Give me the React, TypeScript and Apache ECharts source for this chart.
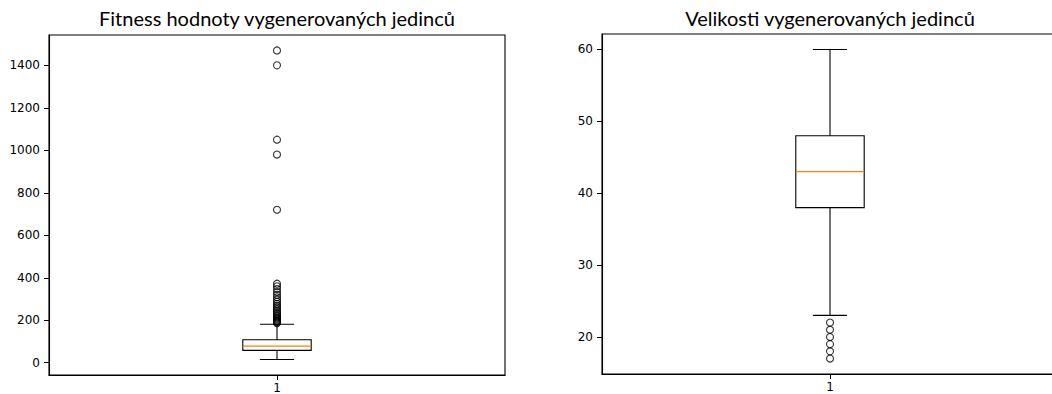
import React, { useEffect, useRef } from "react";
import * as echarts from "echarts";

// Fitness values: five-number summary [whisker low, Q1, median, Q3, whisker high]
const fitnessSummary = [15, 58, 78, 108, 181];
const fitnessOutliers = [
  186, 190, 194, 198, 203, 208, 213, 218, 224, 230, 237, 244, 252, 260, 268,
  277, 287, 297, 308, 320, 333, 347, 360, 372, 720, 980, 1050, 1400, 1470,
];
const fitnessTicks = [0, 200, 400, 600, 800, 1000, 1200, 1400];

// Individual sizes
const sizeSummary = [23, 38, 43, 48, 60];
const sizeOutliers = [22, 21, 20, 19, 18, 17];
const sizeTicks = [20, 30, 40, 50, 60];

const categoryLabels = ["1"];
const titles = ["Fitness hodnoty vygenerovaných jedinců", "Velikosti vygenerovaných jedinců"];

const FONT = "DejaVu Sans";

// Axis extents with a 5% margin around the data, as in the usual boxplot view
function paddedExtent(values: number[]): [number, number] {
  const lo = Math.min(...values);
  const hi = Math.max(...values);
  const pad = (hi - lo) * 0.05;
  return [lo - pad, hi + pad];
}

const BOX_HALF = 0.075; // half box width in x-axis units
const CAP_HALF = 0.0375; // half whisker-cap width

function renderBox(_params: any, api: any) {
  const x = api.value(0);
  const lo = api.value(1);
  const q1 = api.value(2);
  const med = api.value(3);
  const q3 = api.value(4);
  const hi = api.value(5);
  const c = (xx: number, yy: number) => api.coord([xx, yy]);
  const pLo = c(x, lo);
  const pHi = c(x, hi);
  const pQ1L = c(x - BOX_HALF, q1);
  const pQ3R = c(x + BOX_HALF, q3);
  const pQ1 = c(x, q1);
  const pQ3 = c(x, q3);
  const capLoL = c(x - CAP_HALF, lo);
  const capLoR = c(x + CAP_HALF, lo);
  const capHiL = c(x - CAP_HALF, hi);
  const capHiR = c(x + CAP_HALF, hi);
  const medL = c(x - BOX_HALF, med);
  const medR = c(x + BOX_HALF, med);
  const stroke = { stroke: "#000", lineWidth: 1.1, fill: "none" };
  return {
    type: "group",
    children: [
      { type: "line", shape: { x1: pLo[0], y1: pLo[1], x2: pQ1[0], y2: pQ1[1] }, style: stroke },
      { type: "line", shape: { x1: pQ3[0], y1: pQ3[1], x2: pHi[0], y2: pHi[1] }, style: stroke },
      { type: "line", shape: { x1: capLoL[0], y1: capLoL[1], x2: capLoR[0], y2: capLoR[1] }, style: stroke },
      { type: "line", shape: { x1: capHiL[0], y1: capHiL[1], x2: capHiR[0], y2: capHiR[1] }, style: stroke },
      {
        type: "rect",
        shape: {
          x: pQ1L[0],
          y: pQ3R[1],
          width: pQ3R[0] - pQ1L[0],
          height: pQ1L[1] - pQ3R[1],
        },
        style: stroke,
      },
      {
        type: "line",
        shape: { x1: medL[0], y1: medL[1], x2: medR[0], y2: medR[1] },
        style: { stroke: "#ff7f0e", lineWidth: 1.1 },
      },
    ],
  };
}

// The canvas is a bit wider than the visible frame, so the second panel
// runs past the right edge and is cut off there.
const CANVAS_W = 1070;
const VIEW_W = 1052;
const VIEW_H = 394;

export default function App() {
  const ref = useRef<HTMLDivElement>(null);

  useEffect(() => {
    if (!ref.current) return;
    const chart = echarts.init(ref.current, null, { renderer: "svg" });

    const [fMin, fMax] = paddedExtent([...fitnessSummary, ...fitnessOutliers]);
    const [sMin, sMax] = paddedExtent([...sizeSummary, ...sizeOutliers]);

    const grids = [
      { left: 49, top: 35, width: 456, height: 341 },
      { left: 602, top: 34, width: 456, height: 340 },
    ];

    const xAxisFor = (gridIndex: number) => ({
      type: "value",
      gridIndex,
      min: 0.5,
      max: 1.5,
      splitLine: { show: false },
      axisLine: { show: true, onZero: false, lineStyle: { color: "#000", width: 1.1 } },
      axisTick: { show: true, length: 5, customValues: [1], lineStyle: { color: "#000", width: 1 } },
      axisLabel: {
        show: true,
        customValues: [1],
        formatter: () => categoryLabels[0],
        fontFamily: FONT,
        fontSize: 12,
        color: "#000",
        margin: 7,
      },
    });

    const yAxisFor = (gridIndex: number, min: number, max: number, ticks: number[]) => ({
      type: "value",
      gridIndex,
      min,
      max,
      splitLine: { show: false },
      axisLine: { show: true, lineStyle: { color: "#000", width: 1.1 } },
      axisTick: { show: true, length: 5, customValues: ticks, lineStyle: { color: "#000", width: 1 } },
      axisLabel: {
        show: true,
        customValues: ticks,
        formatter: (v: number) => String(Math.round(v)),
        fontFamily: FONT,
        fontSize: 12,
        color: "#000",
        margin: 9,
      },
    });

    const outlierStyle = {
      color: "rgba(0,0,0,0)",
      borderColor: "#000",
      borderWidth: 1.1,
    };

    const titleStyle = {
      textAlign: "center",
      textVerticalAlign: "middle",
      fontFamily: "Lato",
      fontSize: 20,
      fill: "#000",
    };

    chart.setOption({
      animation: false,
      backgroundColor: "#fff",
      grid: grids.map((g) => ({
        ...g,
        show: true,
        borderColor: "#000",
        borderWidth: 1.1,
        backgroundColor: "#fff",
      })),
      xAxis: [xAxisFor(0), xAxisFor(1)],
      yAxis: [
        yAxisFor(0, fMin, fMax, fitnessTicks),
        yAxisFor(1, sMin, sMax, sizeTicks),
      ],
      graphic: [
        { type: "text", x: 277, y: 18, style: { ...titleStyle, text: titles[0] } },
        { type: "text", x: 830, y: 18, style: { ...titleStyle, text: titles[1] } },
      ],
      series: [
        {
          type: "custom",
          xAxisIndex: 0,
          yAxisIndex: 0,
          renderItem: renderBox,
          encode: { x: 0, y: [1, 2, 3, 4, 5] },
          data: [[1, ...fitnessSummary]],
          clip: false,
        },
        {
          type: "scatter",
          xAxisIndex: 0,
          yAxisIndex: 0,
          symbol: "circle",
          symbolSize: 7,
          itemStyle: outlierStyle,
          data: fitnessOutliers.map((v) => [1, v]),
        },
        {
          type: "custom",
          xAxisIndex: 1,
          yAxisIndex: 1,
          renderItem: renderBox,
          encode: { x: 0, y: [1, 2, 3, 4, 5] },
          data: [[1, ...sizeSummary]],
          clip: false,
        },
        {
          type: "scatter",
          xAxisIndex: 1,
          yAxisIndex: 1,
          symbol: "circle",
          symbolSize: 7,
          itemStyle: outlierStyle,
          data: sizeOutliers.map((v) => [1, v]),
        },
      ],
    });

    return () => chart.dispose();
  }, []);

  return (
    <div
      style={{
        position: "fixed",
        left: 0,
        top: 0,
        width: VIEW_W,
        height: VIEW_H,
        overflow: "hidden",
        background: "#fff",
      }}
    >
      <div ref={ref} style={{ width: CANVAS_W, height: VIEW_H }} />
    </div>
  );
}
